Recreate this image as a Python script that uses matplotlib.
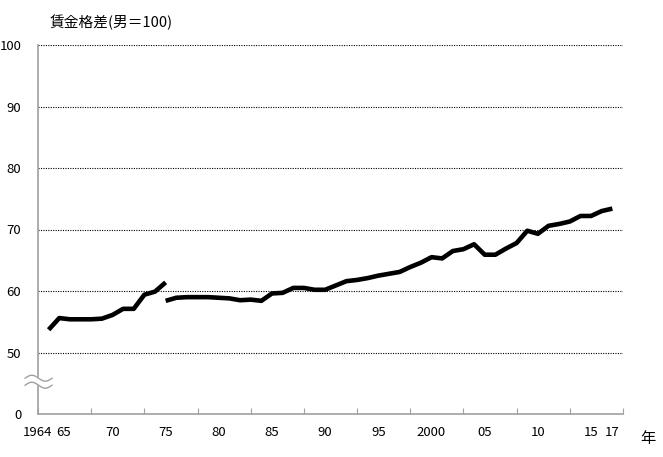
import numpy as np
import matplotlib
matplotlib.use('Agg')
import matplotlib.pyplot as plt

plt.rcParams['font.family'] = ['Noto Sans CJK JP', 'DejaVu Sans']

# old series 1964-1975
years_old = list(range(1964, 1976))
gap_old = [53.7, 55.6, 55.4, 55.4, 55.4, 55.5, 56.1, 57.1, 57.1, 59.4, 59.9, 61.4]

# new series 1975-2017
years_new = list(range(1975, 2018))
gap_new = [58.4, 58.9, 59.0, 59.0, 59.0, 58.9, 58.8, 58.5, 58.6, 58.4,
           59.6, 59.7, 60.5, 60.5, 60.2, 60.2, 60.9, 61.6, 61.8, 62.1,
           62.5, 62.8, 63.1, 63.9, 64.6, 65.5, 65.3, 66.5, 66.8, 67.6,
           65.9, 65.9, 66.9, 67.8, 69.8, 69.3, 70.6, 70.9, 71.3, 72.2,
           72.2, 73.0, 73.4]

ytick_vals = [0, 50, 60, 70, 80, 90, 100]
xlabel_pos = [1963.0, 1965.4, 1970, 1975, 1980, 1985, 1990, 1995, 2000, 2005, 2010, 2015, 2017]
xlabel_txt = ['1964', '65', '70', '75', '80', '85', '90', '95', '2000', '05', '10', '15', '17']

def squash(v):
    # axis is broken between 0 and 50: 0-50 takes one grid step
    v = np.asarray(v, dtype=float)
    return np.where(v >= 50, v - 40, v / 5.0)

fig = plt.figure(figsize=(6.63, 4.57), dpi=100)
ax = fig.add_axes([38/663, 43/457, 585/663, 369/457])

ax.plot(years_old, squash(gap_old), color='black', lw=3.3, solid_capstyle='butt', solid_joinstyle='round')
ax.plot(years_new, squash(gap_new), color='black', lw=3.3, solid_capstyle='butt', solid_joinstyle='round')

ax.set_xlim(1963, 2018)
ax.set_ylim(0, 60)
ax.set_xticks(np.arange(1963, 2019, 5))
ax.set_xticklabels([])
ax.set_yticks(squash(ytick_vals))
ax.set_yticklabels([str(v) for v in ytick_vals], fontsize=9.5)
ax.tick_params(axis='y', length=0, pad=12)
ax.tick_params(axis='x', direction='in', length=4, color='#a0a0a0')

for v in ytick_vals[1:]:
    ax.axhline(squash(v), color='black', lw=0.8, ls=(0, (1, 1.2)), zorder=0)

for s in ['top', 'right']:
    ax.spines[s].set_visible(False)
for s in ['left', 'bottom']:
    ax.spines[s].set_color('#a0a0a0')
    ax.spines[s].set_linewidth(1.2)

trans = ax.get_xaxis_transform()
for x, t in zip(xlabel_pos, xlabel_txt):
    ax.text(x, -0.05, t, transform=trans, ha='center', va='center', fontsize=9.5)

fig.text(648/663, 1 - 438/457, '年', ha='center', va='center', fontsize=11)
fig.text(50/663, 1 - 22/457, '賃金格差(男＝100)', ha='left', va='center', fontsize=10.6)

# break mark on the y axis
wx = np.linspace(-0.022, 0.024, 60)
wy = 0.008 * np.sin((wx + 0.022) / 0.046 * 2 * np.pi)
ax.fill_between(wx, 0.079 + wy, 0.097 + wy, color='white', transform=ax.transAxes, clip_on=False, zorder=5)
ax.plot(wx, 0.078 + wy, color='#a0a0a0', lw=1.0, transform=ax.transAxes, clip_on=False, zorder=6)
ax.plot(wx, 0.097 + wy, color='#a0a0a0', lw=1.0, transform=ax.transAxes, clip_on=False, zorder=6)

fig.savefig('out.png', dpi=100)
